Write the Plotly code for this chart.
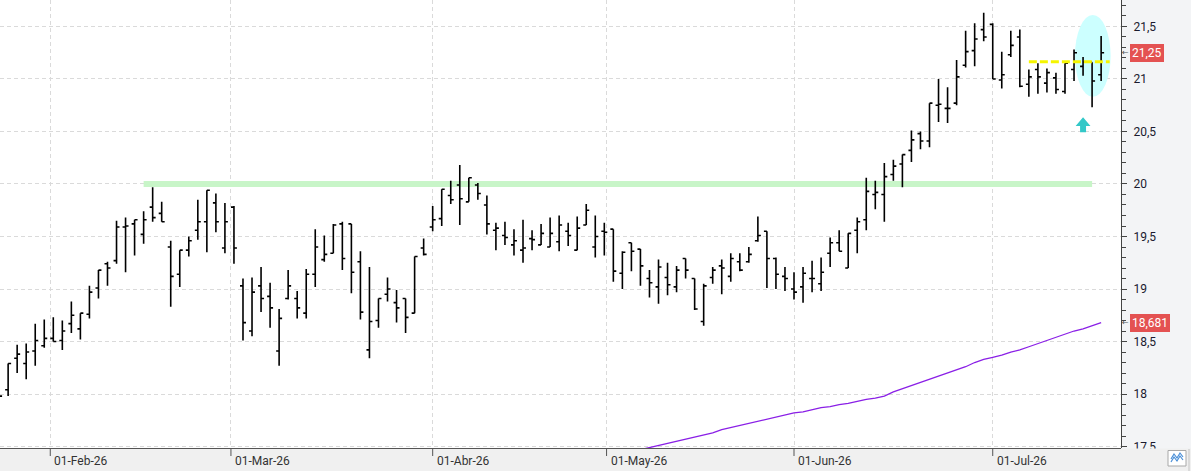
import plotly.graph_objects as go
import pandas as pd

# ---------------- data ----------------
HOLIDAYS = ["2026-04-03", "2026-04-06", "2026-05-01"]
dates = pd.bdate_range("2026-01-23", "2026-07-17", freq="C", holidays=HOLIDAYS)

opens = [17.95, 18.04, 18.34, 18.29, 18.41, 18.46, 18.53, 18.51, 18.67, 18.62,
         18.76, 19.01, 19.24, 19.27, 19.59, 19.62, 19.52, 19.78, 19.72, 19.40,
         19.14, 19.37, 19.56, 19.64, 19.82, 19.39, 19.78, 19.03, 18.60, 19.03,
         18.93, 18.41, 18.91, 18.91, 18.77, 19.14, 19.28, 19.34, 19.62, 19.62,
         19.26, 18.42, 18.70, 18.95, 18.87, 18.91, 18.77, 19.39, 19.59, 19.67,
         19.89, 19.99, 19.83, 19.99, 19.80, 19.56, 19.51, 19.42, 19.37, 19.48,
         19.42, 19.40, 19.45, 19.55, 19.37, 19.61, 19.40, 19.55, 19.57, 19.15,
         19.44, 19.38, 19.10, 19.02, 19.11, 19.02, 19.29, 19.10, 18.69, 19.11,
         19.22, 19.12, 19.26, 19.26, 19.46, 19.55, 19.29, 19.12, 19.00, 19.02,
         19.10, 19.05, 19.34, 19.44, 19.20, 19.56, 19.66, 19.90, 19.90, 20.09,
         20.19, 20.32, 20.48, 20.41, 20.75, 20.72, 20.77, 21.13, 21.27, 21.47,
         21.52, 20.99, 21.23, 21.40, 20.95, 21.09, 20.96, 21.01, 20.88, 21.09,
         21.12, 21.16, 21.04]

highs = [18.05, 18.29, 18.47, 18.48, 18.67, 18.71, 18.73, 18.70, 18.88, 18.77,
         19.03, 19.18, 19.26, 19.65, 19.68, 19.66, 19.74, 19.97, 19.83, 19.46,
         19.37, 19.50, 19.85, 19.94, 19.91, 19.82, 19.79, 19.10, 19.11, 19.21,
         19.06, 18.81, 19.18, 18.98, 19.19, 19.57, 19.51, 19.62, 19.64, 19.62,
         19.36, 19.21, 18.91, 19.11, 18.99, 18.91, 19.31, 19.48, 19.79, 19.95,
         20.03, 20.18, 20.06, 20.01, 19.89, 19.63, 19.64, 19.57, 19.66, 19.56,
         19.62, 19.68, 19.70, 19.63, 19.69, 19.81, 19.70, 19.63, 19.57, 19.36,
         19.44, 19.38, 19.18, 19.28, 19.25, 19.22, 19.29, 19.10, 19.05, 19.21,
         19.28, 19.34, 19.34, 19.40, 19.69, 19.55, 19.30, 19.21, 19.16, 19.21,
         19.27, 19.30, 19.49, 19.56, 19.53, 19.68, 20.06, 20.03, 20.20, 20.23,
         20.28, 20.51, 20.50, 20.77, 21.00, 20.92, 21.18, 21.46, 21.53, 21.63,
         21.53, 21.26, 21.46, 21.47, 21.09, 21.15, 21.10, 21.06, 21.15, 21.28,
         21.21, 21.16, 21.41]

lows = [17.90, 17.98, 18.20, 18.14, 18.27, 18.44, 18.50, 18.42, 18.58, 18.52,
        18.72, 18.91, 19.03, 19.24, 19.16, 19.32, 19.43, 19.64, 19.64, 18.83,
        19.02, 19.31, 19.47, 19.35, 19.54, 19.34, 19.24, 18.51, 18.55, 18.78,
        18.63, 18.27, 18.90, 18.72, 18.72, 19.02, 19.26, 19.34, 19.18, 18.96,
        18.71, 18.34, 18.63, 18.88, 18.68, 18.58, 18.77, 19.32, 19.55, 19.60,
        19.81, 19.61, 19.83, 19.85, 19.52, 19.37, 19.42, 19.32, 19.25, 19.37,
        19.42, 19.40, 19.36, 19.41, 19.37, 19.61, 19.30, 19.32, 19.07, 19.00,
        19.17, 19.03, 18.92, 18.86, 18.94, 18.97, 19.10, 18.80, 18.65, 19.05,
        18.95, 19.07, 19.17, 19.25, 19.45, 19.01, 19.00, 18.98, 18.90, 18.87,
        18.97, 18.98, 19.21, 19.36, 19.20, 19.34, 19.56, 19.76, 19.64, 20.03,
        19.97, 20.21, 20.33, 20.35, 20.59, 20.58, 20.75, 21.11, 21.12, 21.36,
        21.00, 20.91, 21.21, 20.92, 20.83, 20.86, 20.87, 20.86, 20.86, 20.98,
        21.03, 20.73, 20.98]

closes = [17.98, 18.29, 18.38, 18.40, 18.51, 18.53, 18.50, 18.60, 18.75, 18.77,
          18.97, 19.18, 19.20, 19.59, 19.60, 19.66, 19.66, 19.68, 19.64, 19.12,
          19.37, 19.46, 19.64, 19.94, 19.64, 19.64, 19.39, 18.68, 18.97, 18.91,
          18.82, 18.72, 19.03, 18.82, 19.14, 19.40, 19.33, 19.61, 19.29, 19.16,
          18.78, 18.69, 18.91, 19.00, 18.82, 18.73, 19.31, 19.33, 19.66, 19.95,
          19.85, 19.86, 20.06, 19.91, 19.62, 19.58, 19.49, 19.46, 19.39, 19.47,
          19.53, 19.53, 19.61, 19.51, 19.58, 19.75, 19.50, 19.54, 19.17, 19.35,
          19.36, 19.22, 19.06, 19.21, 19.04, 19.18, 19.18, 18.81, 19.03, 19.18,
          19.20, 19.29, 19.18, 19.33, 19.51, 19.29, 19.14, 19.10, 18.97, 19.15,
          19.10, 19.16, 19.44, 19.36, 19.53, 19.64, 19.93, 19.92, 20.07, 20.17,
          20.28, 20.42, 20.41, 20.77, 20.76, 20.72, 21.02, 21.26, 21.38, 21.40,
          21.00, 21.04, 21.32, 20.93, 21.02, 21.02, 21.06, 20.90, 21.15, 21.25,
          21.16, 20.98, 21.25]

# moving average (visible part, last 52 sessions)
ma_values = [17.47, 17.49, 17.51, 17.53, 17.55, 17.57, 17.59, 17.61, 17.63, 17.66,
             17.68, 17.70, 17.72, 17.74, 17.76, 17.78, 17.80, 17.82, 17.83, 17.85,
             17.87, 17.88, 17.90, 17.91, 17.93, 17.95, 17.96, 17.98, 18.02, 18.05,
             18.08, 18.11, 18.14, 18.17, 18.20, 18.23, 18.26, 18.30, 18.33, 18.35,
             18.37, 18.40, 18.42, 18.45, 18.48, 18.51, 18.54, 18.57, 18.60, 18.62,
             18.65, 18.68]
ma_last_label = "18,681"
last_close_label = "21,25"

month_starts = ["2026-02-01", "2026-03-01", "2026-04-01", "2026-05-01", "2026-06-01", "2026-07-01"]
month_labels = ["01-Feb-26", "01-Mar-26", "01-Abr-26", "01-May-26", "01-Jun-26", "01-Jul-26"]

y_ticks = [17.5, 18, 18.5, 19, 19.5, 20, 20.5, 21, 21.5]
y_tick_labels = ["17,5", "18", "18,5", "19", "19,5", "20", "20,5", "21", "21,5"]

# drawings
support_level = 20.0
support_from, support_to = "2026-02-16", "2026-07-16"
yellow_level = 21.165
yellow_from = "2026-07-07"
highlight_from, highlight_to = "2026-07-14", "2026-07-17"
highlight_low, highlight_high = 20.83, 21.61
arrow_date = "2026-07-15"
arrow_top, arrow_head_base, arrow_bottom = 20.635, 20.552, 20.492

# ---------------- helpers ----------------
x_idx = list(range(len(dates)))
date_pos = {d: i for i, d in enumerate(dates)}


def pos_of(d):
    d = pd.Timestamp(d)
    if d in date_pos:
        return float(date_pos[d])
    prev_i = max(i for i, t in enumerate(dates) if t < d)
    nxt_i = prev_i + 1
    frac = (d - dates[prev_i]) / (dates[nxt_i] - dates[prev_i])
    return prev_i + frac


tick_pos = [pos_of(m) for m in month_starts]

W, H = 1191, 471
ML, MR, MT, MB = 0, 70, 0, 23
PW, PH = W - ML - MR, H - MT - MB


def px(xp):
    return (xp - ML) / PW


def py(yp):
    return (PH + MT - yp) / PH


# ---------------- figure ----------------
fig = go.Figure()

fig.add_trace(go.Ohlc(
    x=x_idx, open=opens, high=highs, low=lows, close=closes,
    increasing=dict(line=dict(color="#000000", width=1.6)),
    decreasing=dict(line=dict(color="#000000", width=1.6)),
    tickwidth=0.33, hoverinfo="skip", showlegend=False,
))

fig.add_trace(go.Scatter(
    x=x_idx[-len(ma_values):], y=ma_values, mode="lines",
    line=dict(color="#8a1fe6", width=1.3), hoverinfo="skip", showlegend=False,
))

shapes = []
# support band
shapes.append(dict(type="line", xref="x", yref="y",
                   x0=pos_of(support_from), x1=pos_of(support_to),
                   y0=support_level, y1=support_level,
                   line=dict(color="#c8f5c8", width=6), layer="between"))
# highlight ellipse
shapes.append(dict(type="circle", xref="x", yref="y",
                   x0=pos_of(highlight_from) + 0.1, x1=pos_of(highlight_to) + 1.05,
                   y0=highlight_low, y1=highlight_high,
                   fillcolor="#ccffff", line=dict(width=0), layer="between"))
# yellow dashed level
shapes.append(dict(type="line", xref="x", yref="y",
                   x0=pos_of(yellow_from), x1=len(dates) - 0.05,
                   y0=yellow_level, y1=yellow_level,
                   line=dict(color="#f5f500", width=3, dash="8px,3px"), layer="above"))
# up arrow
ax = pos_of(arrow_date)
hw, sw = 0.82, 0.33
arrow_path = (f"M {ax - hw},{arrow_head_base} L {ax},{arrow_top} L {ax + hw},{arrow_head_base} "
              f"L {ax + sw},{arrow_head_base} L {ax + sw},{arrow_bottom} L {ax - sw},{arrow_bottom} "
              f"L {ax - sw},{arrow_head_base} Z")
shapes.append(dict(type="path", xref="x", yref="y", path=arrow_path,
                   fillcolor="#33c8c8", line=dict(width=0), layer="above"))
# bottom strip (covers label overflow)
shapes.append(dict(type="rect", xref="paper", yref="paper",
                   x0=px(-2), x1=px(W + 2), y0=py(H + 2), y1=py(PH + 0.5),
                   fillcolor="#f0f0f0", line=dict(width=0), layer="above"))
# x axis line
shapes.append(dict(type="line", xref="paper", yref="paper",
                   x0=px(0), x1=px(PW), y0=py(PH + 0.5), y1=py(PH + 0.5),
                   line=dict(color="#555555", width=1), layer="above"))
# x tick marks
for t in tick_pos:
    shapes.append(dict(type="line", xref="x", yref="paper",
                       x0=t, x1=t, y0=py(PH), y1=py(PH + 8),
                       line=dict(color="#555555", width=1), layer="above"))
# icon button bottom right
shapes.append(dict(type="rect", xref="paper", yref="paper",
                   x0=px(1168), x1=px(1186), y0=py(466), y1=py(450.5),
                   fillcolor="#ffffff", line=dict(color="#a8a8a8", width=1), layer="above"))
for off in (0, 3):
    pts = [(1171, 461 + off - 2), (1174, 456 + off - 2), (1177, 460 + off - 2),
           (1180, 455 + off - 2), (1183, 459 + off - 2)]
    path = "M " + " L ".join(f"{px(a)},{py(b)}" for a, b in pts)
    shapes.append(dict(type="path", xref="paper", yref="paper", path=path,
                       line=dict(color="#4a8fd8", width=1.2), layer="above"))
shapes.append(dict(type="line", xref="paper", yref="paper",
                   x0=px(1189), x1=px(1189), y0=py(H), y1=py(PH + 1),
                   line=dict(color="#c4c4c4", width=1), layer="above"))

annotations = []
for t, lab in zip(tick_pos, month_labels):
    annotations.append(dict(x=t, xref="x", y=0, yref="paper", yshift=-13, xshift=2,
                            text=lab, showarrow=False, xanchor="left", yanchor="middle",
                            font=dict(family="Roboto", size=12, color="#333333")))

for val, lab in ((closes[-1], last_close_label), (ma_values[-1] + 0.001, ma_last_label)):
    annotations.append(dict(x=px(1130), xref="paper", y=val, yref="y", text=lab,
                            showarrow=False, xanchor="left", yanchor="middle",
                            bgcolor="#e45252", bordercolor="#e45252", borderwidth=1, borderpad=1,
                            font=dict(family="Roboto", size=12, color="#ffffff")))
    annotations.append(dict(x=px(1125.5), xref="paper", y=val, yref="y", text="←",
                            showarrow=False, xanchor="center", yanchor="middle",
                            font=dict(family="DejaVu Sans", size=8, color="#555555")))

fig.update_layout(
    width=W, height=H, autosize=False,
    margin=dict(l=ML, r=MR, t=MT, b=MB, pad=0),
    paper_bgcolor="#f3f4f6", plot_bgcolor="#ffffff",
    showlegend=False, separators=",.",
    shapes=shapes, annotations=annotations,
    xaxis=dict(range=[0.1, 124.2], tickmode="array", tickvals=tick_pos,
               showticklabels=False, ticks="", showgrid=True,
               gridcolor="#dadada", griddash="4px,3px", gridwidth=1,
               zeroline=False, showline=False, rangeslider=dict(visible=False),
               fixedrange=True),
    yaxis=dict(side="right", range=[17.486, 21.752], tickmode="array",
               tickvals=y_ticks, ticktext=y_tick_labels,
               ticks="outside", ticklen=5, tickcolor="#444444", tickwidth=1,
               showline=True, linecolor="#444444", linewidth=1,
               showgrid=True, gridcolor="#dadada", griddash="4px,3px", gridwidth=1,
               zeroline=False, fixedrange=True, ticklabelstandoff=4,
               tickfont=dict(family="Roboto", size=12, color="#1a1a2e"),
               minor=dict(tickmode="linear", tick0=17.5, dtick=0.1, ticks="outside",
                          ticklen=4, tickcolor="#444444", showgrid=False)),
)

fig.write_html("out.html")
